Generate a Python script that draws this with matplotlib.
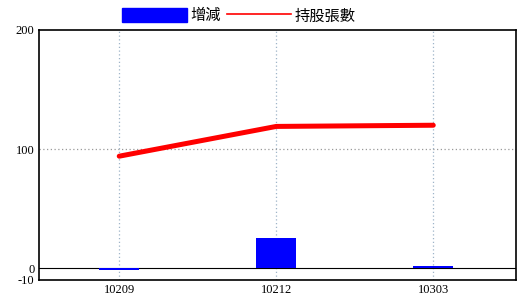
import matplotlib
matplotlib.use('Agg')
import matplotlib.pyplot as plt
from matplotlib.patches import Patch
from matplotlib.lines import Line2D

# data
months = ['10209', '10212', '10303']
change = [-2, 25, 2]          # 增減
holdings = [94, 119, 120]     # 持股張數
y_ticks = [-10, 0, 100, 200]

cjk = ['Noto Sans CJK TC', 'DejaVu Sans']
serif = ['Liberation Serif', 'DejaVu Serif']

fig = plt.figure(figsize=(5.2, 3.0), dpi=100)
ax = fig.add_axes([0.0744, 0.0667, 0.9179, 0.8333])

x = list(range(len(months)))
ax.bar(x, change, width=0.255, color='#0000ff', zorder=3)
ax.plot(x, holdings, color='#ff0000', linewidth=3.6, solid_capstyle='round', zorder=4)

ax.set_xlim(-0.513, 2.527)
ax.set_ylim(-10, 200)

# grid: dotted verticals at the months, dotted horizontal at 100, solid zero line
for xi in x:
    ax.axvline(xi, color='#9fb4c8', linestyle=(0, (1, 2)), linewidth=0.9, zorder=1)
ax.axhline(100, color='#999999', linestyle=(0, (1, 2)), linewidth=0.9, zorder=1)
ax.axhline(0, color='black', linewidth=0.8, zorder=2)

ax.set_xticks(x)
ax.set_xticklabels(months, family=serif, fontsize=9)
ax.set_yticks(y_ticks)
ax.set_yticklabels([str(v) for v in y_ticks], family=serif, fontsize=9)
ax.tick_params(length=0, pad=3)
for s in ax.spines.values():
    s.set_linewidth(1.2)

handles = [Patch(color='#0000ff'),
           Line2D([], [], color='#ff0000', linewidth=1.2)]
fig.legend(handles, ['增減', '持股張數'], loc='center', bbox_to_anchor=(0.46, 0.947),
           ncol=2, frameon=False, prop={'family': cjk, 'size': 11},
           handlelength=4.2, handleheight=1.05, handletextpad=0.25, columnspacing=0.4,
           borderpad=0)

plt.savefig('out.png', dpi=100, facecolor='white')
plt.close()
